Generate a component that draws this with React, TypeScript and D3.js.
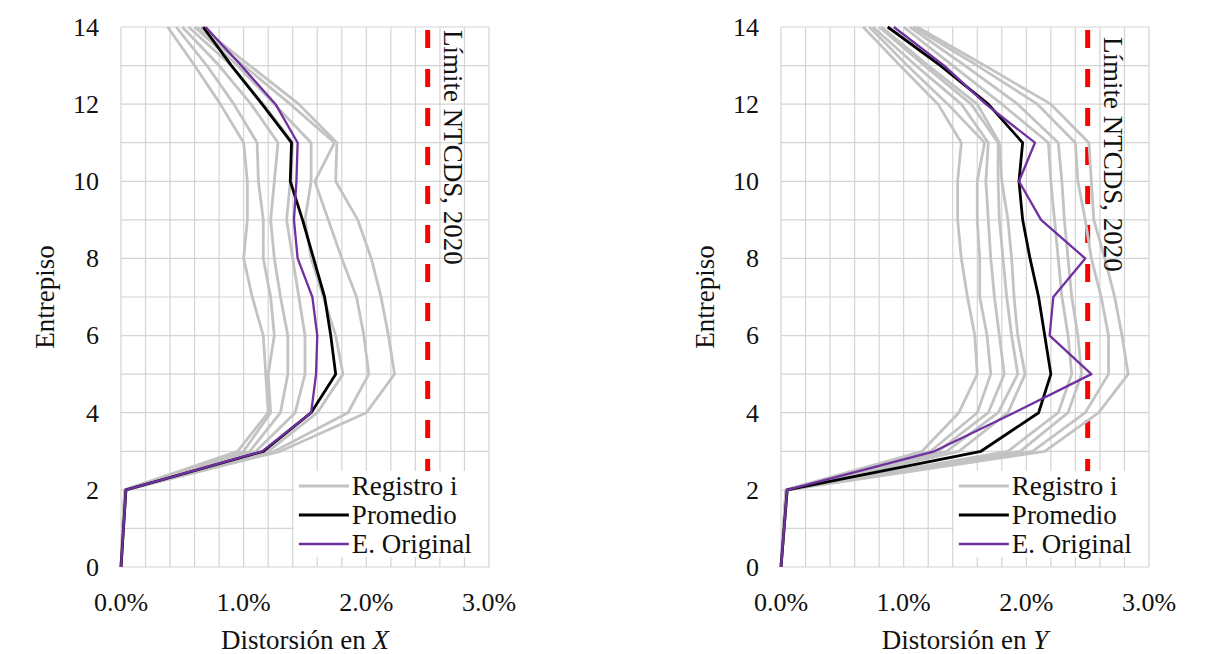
import React from "react";
import * as d3 from "d3";

const levels = [0, 2, 3, 4, 5, 6, 7, 8, 9, 10, 11, 12, 13, 14];
const yTicks = [0, 2, 4, 6, 8, 10, 12, 14];
const xTicks = [0, 1, 2, 3];
const limitValue = 2.5;

// Left chart (X direction), drift in %
const recordsX: number[][] = [
  [0, 0.03, 0.95, 1.2, 1.18, 1.16, 1.07, 1.0, 1.03, 1.03, 1.0, 0.81, 0.6, 0.38],
  [0, 0.03, 1.0, 1.22, 1.2, 1.25, 1.22, 1.16, 1.16, 1.12, 1.11, 0.92, 0.7, 0.45],
  [0, 0.03, 1.05, 1.3, 1.36, 1.36, 1.3, 1.25, 1.22, 1.25, 1.28, 1.06, 0.8, 0.5],
  [0, 0.04, 1.1, 1.42, 1.5, 1.5, 1.45, 1.4, 1.35, 1.38, 1.4, 1.16, 0.9, 0.55],
  [0, 0.04, 1.2, 1.6, 1.81, 1.75, 1.65, 1.55, 1.5, 1.55, 1.55, 1.25, 0.95, 0.6],
  [0, 0.04, 1.25, 1.85, 2.02, 1.98, 1.92, 1.8, 1.69, 1.58, 1.74, 1.38, 1.0, 0.62],
  [0, 0.04, 1.3, 2.0, 2.23, 2.18, 2.12, 2.04, 1.93, 1.75, 1.76, 1.45, 1.05, 0.65],
];
const averageX = [0, 0.04, 1.16, 1.55, 1.75, 1.71, 1.66, 1.57, 1.48, 1.38, 1.39, 1.15, 0.9, 0.67];
const originalX = [0, 0.04, 1.15, 1.55, 1.59, 1.6, 1.56, 1.44, 1.41, 1.43, 1.44, 1.26, 0.98, 0.69];

// Right chart (Y direction), drift in %
const recordsY: number[][] = [
  [0, 0.04, 1.15, 1.45, 1.6, 1.58, 1.52, 1.47, 1.44, 1.44, 1.47, 1.28, 0.97, 0.67],
  [0, 0.04, 1.22, 1.6, 1.71, 1.68, 1.62, 1.62, 1.6, 1.6, 1.66, 1.36, 1.03, 0.72],
  [0, 0.04, 1.28, 1.69, 1.82, 1.78, 1.74, 1.71, 1.69, 1.67, 1.69, 1.47, 1.1, 0.75],
  [0, 0.05, 1.35, 1.77, 1.93, 1.88, 1.84, 1.81, 1.78, 1.77, 1.77, 1.55, 1.17, 0.8],
  [0, 0.05, 1.45, 1.85, 1.99, 1.93, 1.9, 1.88, 1.85, 1.8, 1.78, 1.6, 1.2, 0.82],
  [0, 0.05, 1.85, 2.26, 2.37, 2.34, 2.29, 2.26, 2.23, 2.2, 2.18, 1.8, 1.4, 1.0],
  [0, 0.05, 1.95, 2.34, 2.45, 2.42, 2.37, 2.34, 2.31, 2.29, 2.26, 1.93, 1.5, 1.05],
  [0, 0.05, 2.05, 2.48, 2.67, 2.67, 2.61, 2.53, 2.48, 2.42, 2.4, 2.09, 1.6, 1.08],
  [0, 0.05, 2.15, 2.59, 2.83, 2.78, 2.72, 2.64, 2.55, 2.53, 2.51, 2.2, 1.66, 1.11],
];
const averageY = [0, 0.05, 1.63, 2.1, 2.2, 2.15, 2.1, 2.03, 1.97, 1.94, 1.97, 1.69, 1.3, 0.87];
const originalY = [0, 0.05, 1.25, 1.9, 2.53, 2.19, 2.22, 2.48, 2.12, 1.94, 2.07, 1.67, 1.33, 0.92];

const legendLabels = ["Registro i", "Promedio", "E. Original"];

const GRAY = "#c3c3c3";
const PURPLE = "#7030a0";
const FONT = "'Liberation Serif', 'Times New Roman', serif";

type PanelProps = {
  x0: number;
  x1: number;
  records: number[][];
  average: number[];
  original: number[];
  axisVar: string;
  yTitleX: number;
  limitTextX: number;
  limitTextY: number;
};

function Panel({ x0, x1, records, average, original, axisVar, yTitleX, limitTextX, limitTextY }: PanelProps) {
  const yTop = 27;
  const yBot = 567;
  const x = d3.scaleLinear().domain([0, 3]).range([x0, x1]);
  const y = d3.scaleLinear().domain([0, 14]).range([yBot, yTop]);
  const line = d3
    .line<number>()
    .x((d) => x(d))
    .y((_, i) => y(levels[i]));

  const vGrid = d3.range(0, 16).map((i) => i * 0.2);
  const hGrid = d3.range(0, 15);

  const legX = x(1.45);
  const legRows = [486, 515, 544];

  return (
    <g>
      {vGrid.map((v) => (
        <line key={"v" + v} x1={x(v)} x2={x(v)} y1={yTop} y2={yBot} stroke="#d4d4d4" strokeWidth={1.2} />
      ))}
      {hGrid.map((h) => (
        <line key={"h" + h} x1={x0} x2={x1} y1={y(h)} y2={y(h)} stroke="#d4d4d4" strokeWidth={1.2} />
      ))}
      <line
        x1={x(limitValue)}
        x2={x(limitValue)}
        y1={yTop}
        y2={yBot}
        stroke="#ff0000"
        strokeWidth={5}
        strokeDasharray="18 21"
        strokeDashoffset={-3}
      />
      {records.map((r, i) => (
        <path key={i} d={line(r) || ""} fill="none" stroke={GRAY} strokeWidth={2.8} strokeLinejoin="round" />
      ))}
      <path d={line(average) || ""} fill="none" stroke="#000" strokeWidth={2.8} strokeLinejoin="round" />
      <path d={line(original) || ""} fill="none" stroke={PURPLE} strokeWidth={2.3} strokeLinejoin="round" />

      {/* legend */}
      <rect x={legX - 5} y={471} width={x1 - legX + 4} height={86} fill="#fff" />
      {legendLabels.map((lab, i) => (
        <g key={lab}>
          <line
            x1={legX}
            x2={legX + 50}
            y1={legRows[i]}
            y2={legRows[i]}
            stroke={i === 0 ? GRAY : i === 1 ? "#000" : PURPLE}
            strokeWidth={i === 2 ? 2.5 : 3}
          />
          <text x={legX + 53} y={legRows[i]} dy="0.33em" fontSize={27} fontFamily={FONT} fill="#111">
            {lab}
          </text>
        </g>
      ))}

      <text
        transform={`translate(${limitTextX},${limitTextY}) rotate(90)`}
        dominantBaseline="central"
        fontSize={27}
        fontFamily={FONT}
        fill="#111"
      >
        Límite NTCDS, 2020
      </text>

      {yTicks.map((t) => (
        <text key={"yt" + t} x={x0 - 22} y={y(t)} dy="0.34em" textAnchor="end" fontSize={26} fontFamily={FONT} fill="#111">
          {t}
        </text>
      ))}
      {xTicks.map((t) => (
        <text key={"xt" + t} x={x(t)} y={611} textAnchor="middle" fontSize={26} fontFamily={FONT} fill="#111">
          {t.toFixed(1) + "%"}
        </text>
      ))}
      <text x={(x0 + x1) / 2} y={649} textAnchor="middle" fontSize={27} fontFamily={FONT} fill="#111">
        Distorsión en <tspan fontStyle="italic">{axisVar}</tspan>
      </text>
      <text
        transform={`translate(${yTitleX},${(yTop + yBot) / 2}) rotate(-90)`}
        textAnchor="middle"
        dominantBaseline="central"
        fontSize={27}
        fontFamily={FONT}
        fill="#111"
      >
        Entrepiso
      </text>
    </g>
  );
}

export default function App() {
  return (
    <svg
      width={1215}
      height={654}
      style={{ position: "absolute", left: 0, top: 0, background: "#fff" }}
    >
      <rect width={1215} height={654} fill="#fff" />
      <Panel
        x0={121}
        x1={489}
        records={recordsX}
        average={averageX}
        original={originalX}
        axisVar="X"
        yTitleX={45}
        limitTextX={453}
        limitTextY={30}
      />
      <Panel
        x0={781}
        x1={1149}
        records={recordsY}
        average={averageY}
        original={originalY}
        axisVar="Y"
        yTitleX={705}
        limitTextX={1113}
        limitTextY={37}
      />
    </svg>
  );
}
